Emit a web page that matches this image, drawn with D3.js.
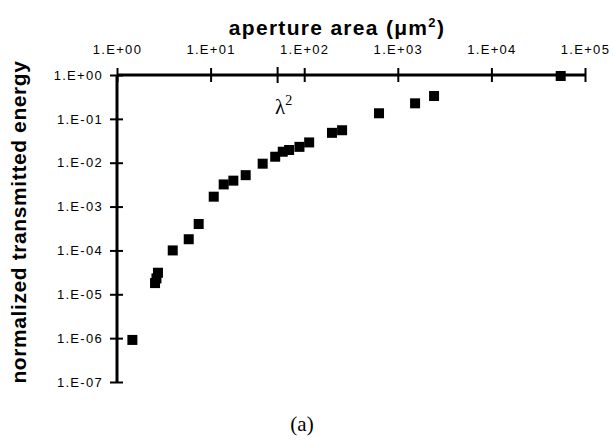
<!DOCTYPE html>
<html>
<head>
<meta charset="utf-8">
<script src="https://cdnjs.cloudflare.com/ajax/libs/d3/7.8.5/d3.min.js"></script>
<style>
  body { margin: 0; background: #fff; }
  .axis text { font-family: "Liberation Sans", Arial, sans-serif; font-size: 13px; letter-spacing: 1.3px; fill: #000; }
  .axis path { stroke: #000; stroke-width: 3; }
  .axis line { stroke: #000; stroke-width: 2; }
</style>
</head>
<body>
<div id="chart"></div>
<script>
// svg container
var width = 613;
var height = 447;

// data: aperture area (um^2) vs normalized transmitted energy
var areaValues   = [1.46, 2.55, 2.64, 2.74, 3.94, 5.84, 7.46, 10.8, 13.8, 17.5, 23.7, 36, 49, 59, 69, 89, 113, 198, 254, 630, 1530, 2440, 55000];
var energyValues = [9.1e-7, 1.8e-5, 2.3e-5, 3.1e-5, 1.0e-4, 1.8e-4, 4.0e-4, 1.68e-3, 3.2e-3, 3.9e-3, 5.2e-3, 9.5e-3, 1.37e-2, 1.78e-2, 1.95e-2, 2.3e-2, 2.9e-2, 4.8e-2, 5.5e-2, 0.134, 0.226, 0.332, 0.95];

// tick values
var xTicks = [1, 10, 100, 1000, 10000, 100000];
var yTicks = [1, 1e-1, 1e-2, 1e-3, 1e-4, 1e-5, 1e-6, 1e-7];
var lambdaSq = 52; // marked lambda^2 position on the area axis

var points = areaValues.map(function (a, i) { return { area: a, energy: energyValues[i] }; });

var svg = d3.select("#chart").append("svg")
    .attr("width", width)
    .attr("height", height);

// scales
var xScale = d3.scaleLog().domain([1, 1e5]).range([117, 585]);
var yScale = d3.scaleLog().domain([1, 1e-7]).range([75, 382]);

// format like 1.E+00 / 1.E-03
function sciFormat(v) {
    var e = Math.round(Math.log10(v));
    var s = e < 0 ? "-" : "+";
    var n = Math.abs(e);
    return "1.E" + s + (n < 10 ? "0" + n : n);
}

// x axis on top, sitting at y = 1E+00
var xAxis = d3.axisTop(xScale)
    .tickValues(xTicks)
    .tickFormat(sciFormat)
    .tickSize(7)
    .tickSizeOuter(0)
    .tickPadding(14);

var xG = svg.append("g")
    .attr("class", "axis")
    .attr("transform", `translate(0, ${yScale(1)})`)
    .call(xAxis);
xG.selectAll(".tick line").attr("y1", 7);
xG.select(".domain").attr("d", `M${xScale(1)},0H${xScale(1e5)}`);

// lambda^2 marker tick
xG.append("line")
    .attr("x1", xScale(lambdaSq)).attr("x2", xScale(lambdaSq))
    .attr("y1", -8).attr("y2", 8);

// y axis
var yAxis = d3.axisLeft(yScale)
    .tickValues(yTicks)
    .tickFormat(sciFormat)
    .tickSize(7)
    .tickSizeOuter(0)
    .tickPadding(7);

var yG = svg.append("g")
    .attr("class", "axis")
    .attr("transform", `translate(${xScale(1)}, 0)`)
    .call(yAxis);
yG.selectAll(".tick line").attr("x1", 6);
yG.select(".domain").attr("d", `M0,${yScale(1)}V${yScale(1e-7)}`);

// squares
var sz = 10;
svg.selectAll("rect.pt")
    .data(points)
    .enter()
    .append("rect")
    .attr("class", "pt")
    .attr("x", d => xScale(d.area) - sz / 2)
    .attr("y", d => yScale(d.energy) - sz / 2)
    .attr("width", sz)
    .attr("height", sz)
    .attr("fill", "#000");

// lambda^2 label
var lam = svg.append("text")
    .attr("x", xScale(lambdaSq) + 6)
    .attr("y", 114)
    .attr("text-anchor", "middle")
    .style("font-family", "'Liberation Serif', 'Times New Roman', serif")
    .style("font-size", "21px");
lam.append("tspan").text("λ");
lam.append("tspan").attr("dy", -9).style("font-size", "14px").text("2");

// axis titles
var title = svg.append("text")
    .attr("x", 337)
    .attr("y", 35)
    .attr("text-anchor", "middle")
    .style("font-family", "'Liberation Sans', Arial, sans-serif")
    .style("font-weight", "bold")
    .style("font-size", "21px")
    .style("letter-spacing", "1.3px");
title.append("tspan").text("aperture area (μm");
title.append("tspan").attr("dy", -8).style("font-size", "13px").text("2");
title.append("tspan").attr("dy", 8).text(")");

svg.append("text")
    .attr("transform", "translate(26, 222) rotate(-90)")
    .attr("text-anchor", "middle")
    .style("font-family", "'Liberation Sans', Arial, sans-serif")
    .style("font-weight", "bold")
    .style("font-size", "21px")
    .style("letter-spacing", "0.6px")
    .text("normalized transmitted energy");

// panel label
svg.append("text")
    .attr("x", 302)
    .attr("y", 431)
    .attr("text-anchor", "middle")
    .style("font-family", "'Liberation Serif', 'Times New Roman', serif")
    .style("font-size", "21px")
    .text("(a)");
</script>
</body>
</html>
